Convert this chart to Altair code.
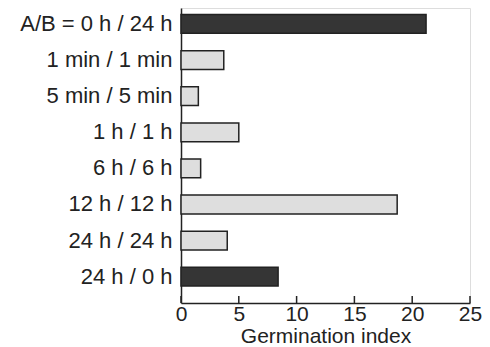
import altair as alt
import pandas as pd

labels = ["A/B = 0 h / 24 h", "1 min / 1 min", "5 min / 5 min", "1 h / 1 h",
          "6 h / 6 h", "12 h / 12 h", "24 h / 24 h", "24 h / 0 h"]
values = [21.2, 3.7, 1.5, 5.0, 1.7, 18.7, 4.0, 8.4]
kinds = ["dark", "light", "light", "light", "light", "light", "light", "dark"]
ticks = [0, 5, 10, 15, 20, 25]

df = pd.DataFrame({"label": labels, "value": values, "kind": kinds})
tdf = pd.DataFrame({"t": ticks})

W, H = 289, 295
FONT = "Liberation Sans"

x_scale = alt.Scale(domain=[0, 25], nice=False)

bars = alt.Chart(df).mark_bar(stroke="#222", strokeWidth=1.5).encode(
    x=alt.X("value:Q", scale=x_scale,
            axis=alt.Axis(values=ticks, ticks=False, grid=False, domainColor="#222",
                          domainWidth=1.5, labelFont=FONT, labelFontSize=21,
                          labelColor="#222", labelPadding=0, labelFlush=False,
                          title="Germination index", titleFont=FONT,
                          titleFontSize=21, titleFontWeight="normal",
                          titleColor="#222", titlePadding=1)),
    y=alt.Y("label:N", sort=labels,
            scale=alt.Scale(paddingInner=0.48, paddingOuter=0.325, align=0.28),
            axis=alt.Axis(ticks=False, grid=False, domainColor="#222", domainWidth=1.5,
                          labelFont=FONT, labelFontSize=22, labelColor="#222",
                          labelPadding=9, labelLimit=200, title=None)),
    fill=alt.Fill("kind:N", scale=alt.Scale(domain=["dark", "light"],
                                            range=["#353535", "#dedede"]),
                  legend=None),
)

tick_marks = alt.Chart(tdf).mark_rule(color="#222", strokeWidth=1.5).encode(
    x=alt.X("t:Q", scale=x_scale),
    y=alt.value(H),
    y2=alt.value(H - 7),
)

chart = alt.layer(bars, tick_marks).properties(
    width=W, height=H,
    autosize=alt.AutoSizeParams(type="none"),
    padding={"left": 181, "top": 8, "right": 20, "bottom": 44},
).configure_view(stroke=None).configure(background="white")

chart.save("out.html", embed_options={"renderer": "svg", "actions": False})
